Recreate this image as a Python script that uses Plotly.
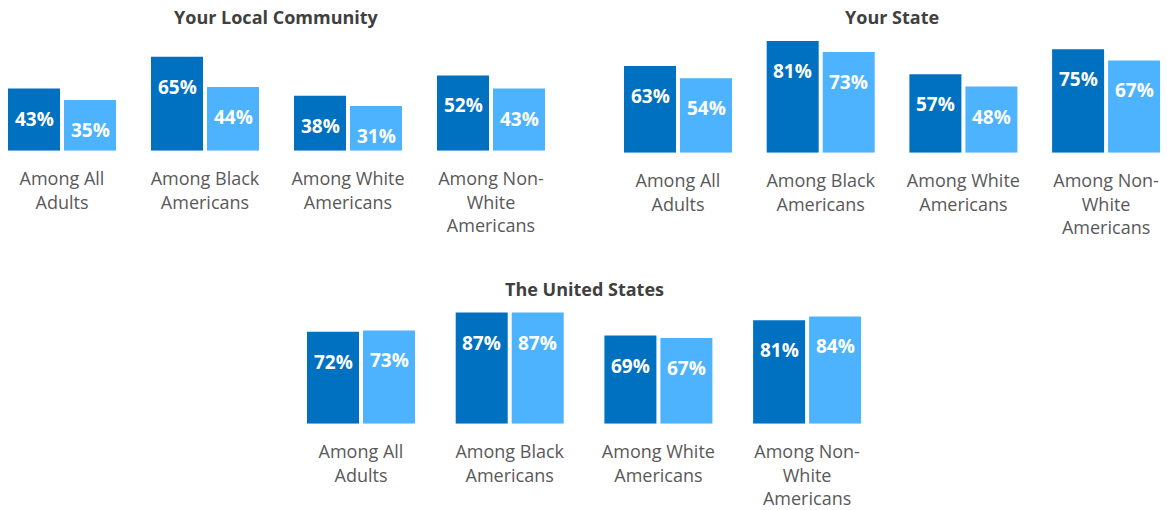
import plotly.graph_objects as go

W, H = 1167, 510

categories = ["Among All<br>Adults", "Among Black<br>Americans",
              "Among White<br>Americans", "Among Non-<br>White<br>Americans"]
panel_titles = ["Your Local Community", "Your State", "The United States"]

local_dark = [43, 65, 38, 52]
local_light = [35, 44, 31, 43]
state_dark = [63, 81, 57, 75]
state_light = [54, 73, 48, 67]
us_dark = [72, 87, 69, 81]
us_light = [73, 87, 67, 84]

DARK = "#0070C0"
LIGHT = "#4DB3FF"
FONT = "Open Sans"

# layout specs in pixels: (domain left, domain right, first group center, group spacing,
#                          baseline y, px per 100%, title x, title y)
panels = [
    dict(L=0, R=560, c0=62, s=143.0, base=152, ph=146.0, tx=276, ty=17,
         dark=local_dark, light=local_light),
    dict(L=600, R=1167, c0=678, s=142.7, base=154, ph=139.0, tx=892, ty=17,
         dark=state_dark, light=state_light),
    dict(L=280, R=890, c0=361, s=148.7, base=427, ph=128.7, tx=584, ty=291,
         dark=us_dark, light=us_light),
]

fig = go.Figure()
annotations = []
for i, p in enumerate(panels):
    n = "" if i == 0 else str(i + 1)
    xa, ya = "x" + n, "y" + n
    s = p["s"]
    bw = 52 / s
    fig.add_trace(go.Bar(x=categories, y=p["dark"], xaxis=xa, yaxis=ya,
                         marker=dict(color=DARK, line=dict(width=0)),
                         width=bw, offset=-54 / s, showlegend=False,
                         hoverinfo="skip"))
    fig.add_trace(go.Bar(x=categories, y=p["light"], xaxis=xa, yaxis=ya,
                         marker=dict(color=LIGHT, line=dict(width=0)),
                         width=bw, offset=2 / s, showlegend=False,
                         hoverinfo="skip"))
    r0 = (p["L"] - p["c0"]) / s
    r1 = (p["R"] - p["c0"]) / s
    ybot = (H - p["base"]) / H
    ytop = (H - p["base"] + p["ph"]) / H
    fig.update_layout(**{
        "xaxis" + n: dict(domain=[p["L"] / W, p["R"] / W], range=[r0, r1],
                          type="category", showgrid=False, zeroline=False,
                          showline=False, ticks="outside", ticklen=12,
                          tickcolor="rgba(0,0,0,0)",
                          tickfont=dict(family=FONT, size=18, color="#595959"),
                          anchor=ya, fixedrange=True),
        "yaxis" + n: dict(domain=[ybot, ytop], range=[0, 100], visible=False,
                          anchor=xa, fixedrange=True),
    })
    for vals, shift in ((p["dark"], -28), (p["light"], 28)):
        for c, v in zip(categories, vals):
            annotations.append(dict(
                x=c, y=v, xref=xa, yref=ya, xshift=shift, yshift=-30,
                text=f"<b>{v}%</b>", showarrow=False, yanchor="middle",
                font=dict(family=FONT, size=19, color="white")))
    annotations.append(dict(
        x=p["tx"] / W, y=1 - p["ty"] / H, xref="paper", yref="paper",
        text=f"<b>{panel_titles[i]}</b>", showarrow=False,
        xanchor="center", yanchor="middle",
        font=dict(family=FONT, size=18, color="#404040")))

fig.update_layout(
    width=W, height=H, margin=dict(l=0, r=0, t=0, b=0),
    paper_bgcolor="white", plot_bgcolor="white",
    barmode="overlay", annotations=annotations,
)

fig.write_html("out.html", config={"displayModeBar": False},
               post_script="document.body.style.margin='0';"
                           "document.body.style.overflow='hidden';")
